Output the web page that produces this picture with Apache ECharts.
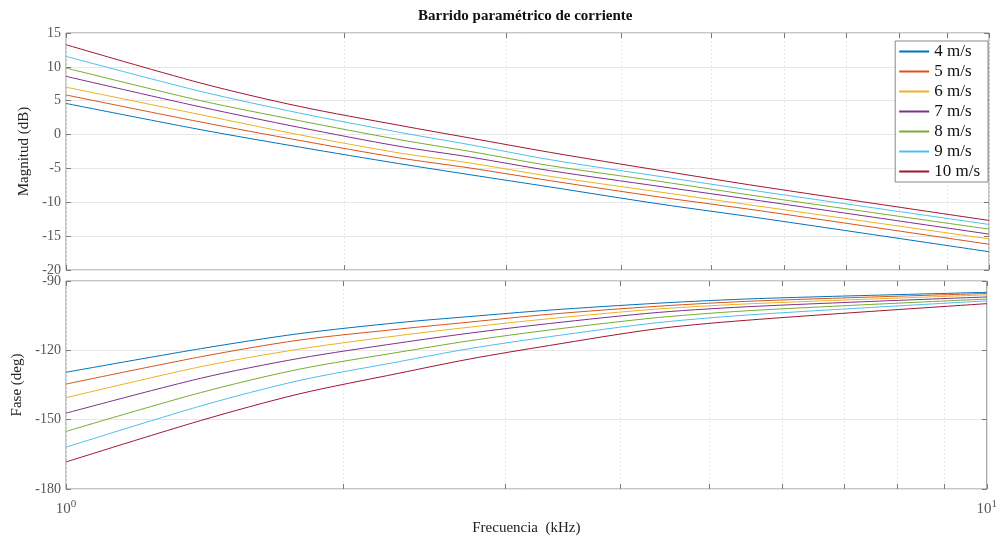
<!DOCTYPE html>
<html>
<head>
<meta charset="utf-8">
<script src="https://cdn.jsdelivr.net/npm/echarts@6/dist/echarts.min.js"></script>
<style>html,body{margin:0;padding:0;background:#fff}#main{width:1000px;height:539px}</style>
</head>
<body>
<div id="main"></div>
<script>
// frecuencias (kHz) donde se leyeron las curvas
var freq = [1, 1.4, 1.79, 2.3, 2.74, 3.35, 4.4, 5.65, 10];
var speeds = ['4 m/s', '5 m/s', '6 m/s', '7 m/s', '8 m/s', '9 m/s', '10 m/s'];
var colors = ['#0072BD', '#D95319', '#EDB120', '#7E2F8E', '#77AC30', '#4DBEEE', '#A2142F'];

// magnitud (dB)
var mag4  = [4.6, 0.72, -1.84, -4.31, -5.93, -7.75, -10.26, -12.33, -17.3];
var mag5  = [5.85, 1.85, -0.86, -3.46, -4.94, -6.82, -9.23, -11.25, -16.2];
var mag6  = [7.0, 2.93, -0.03, -2.73, -4.2, -6.18, -8.49, -10.6, -15.4];
var mag7  = [8.6, 4.07, 1.06, -1.75, -3.32, -5.34, -7.66, -9.77, -14.7];
var mag8  = [9.83, 5.0, 2.05, -0.76, -2.49, -4.6, -6.92, -9.14, -13.96];
var mag9  = [11.55, 6.37, 3.18, 0.32, -1.5, -3.72, -6.18, -8.4, -13.27];
var mag10 = [13.27, 7.6, 4.16, 1.35, -0.51, -2.64, -5.3, -7.66, -12.68];

// fase (deg)
var fase4  = [-129.5, -119.3, -112.8, -108.0, -105.4, -102.6, -99.6, -97.6, -94.9];
var fase5  = [-134.6, -122.8, -115.6, -110.8, -107.8, -104.4, -100.9, -98.6, -95.4];
var fase6  = [-140.5, -127.1, -119.5, -113.6, -110.0, -106.3, -102.1, -99.7, -96.0];
var fase7  = [-147.2, -132.1, -123.5, -116.8, -112.6, -108.4, -103.6, -100.9, -96.9];
var fase8  = [-155.1, -138.3, -128.2, -120.8, -115.9, -111.2, -105.8, -102.6, -97.8];
var fase9  = [-161.9, -144.1, -133.1, -124.9, -119.3, -114.1, -108.0, -104.4, -98.6];
var fase10 = [-168.3, -150.4, -138.9, -129.9, -123.8, -117.9, -110.6, -106.6, -99.8];

var magnitud = [mag4, mag5, mag6, mag7, mag8, mag9, mag10];
var fase = [fase4, fase5, fase6, fase7, fase8, fase9, fase10];

var xTicks = [1, 2, 3, 4, 5, 6, 7, 8, 9, 10];
var xLabels = [1, 10];

var serif = 'Liberation Serif';
var gridColor = '#e8e8e8';
var tickColor = '#7a7a7a';

function pares(vals) {
  return freq.map(function (f, i) { return [f, vals[i]]; });
}

function ejeX(grid, pos, labels) {
  return {
    type: 'log', logBase: 10, gridIndex: grid, position: pos, min: 1, max: 10,
    axisLine: {show: false, onZero: false},
    axisTick: {show: true, inside: true, length: 5, customValues: xTicks, lineStyle: {color: tickColor}},
    splitLine: {show: pos === 'bottom', lineStyle: {color: gridColor, type: [2, 2]}},
    axisLabel: {
      show: labels, customValues: xLabels, margin: 10,
      formatter: function (v) { return '{b|10}{s|' + Math.round(Math.log10(v)) + '}'; },
      rich: {
        b: {fontFamily: serif, fontSize: 15, color: '#555'},
        s: {fontFamily: serif, fontSize: 11, color: '#555', padding: [0, 0, 9, 0]}
      }
    },
    name: labels ? 'Frecuencia  (kHz)' : '',
    nameLocation: 'middle', nameGap: 32,
    nameTextStyle: {fontFamily: serif, fontSize: 15, color: '#222'}
  };
}

function ejeY(grid, pos, min, max, step, name, gap) {
  var left = pos === 'left';
  return {
    type: 'value', gridIndex: grid, position: pos, min: min, max: max, interval: step,
    axisLine: {show: false, onZero: false},
    axisTick: {show: true, inside: true, length: 5, lineStyle: {color: tickColor}},
    splitLine: {show: left, lineStyle: {color: gridColor}},
    axisLabel: {show: left, fontFamily: serif, fontSize: 14, color: '#555', margin: 5},
    name: left ? name : '',
    nameLocation: 'middle', nameGap: gap,
    nameTextStyle: {fontFamily: serif, fontSize: 15, color: '#222'}
  };
}

var series = [];
speeds.forEach(function (s, i) {
  series.push({
    name: s, type: 'line', xAxisIndex: 0, yAxisIndex: 0, symbol: 'none', smooth: 0.3,
    color: colors[i], lineStyle: {width: 1}, data: pares(magnitud[i]), z: 3
  });
  series.push({
    name: s, type: 'line', xAxisIndex: 2, yAxisIndex: 2, symbol: 'none', smooth: 0.3,
    color: colors[i], lineStyle: {width: 1}, data: pares(fase[i]), z: 3
  });
});

var chart = echarts.init(document.getElementById('main'));
chart.setOption({
  animation: false,
  title: {
    text: 'Barrido paramétrico de corriente', left: 413, top: 4,
    textStyle: {fontFamily: serif, fontSize: 15, fontWeight: 'bold', color: '#111'}
  },
  legend: {
    data: speeds, orient: 'vertical', right: 12, top: 41,
    itemWidth: 30, itemHeight: 14, itemGap: 3,
    itemStyle: {opacity: 0},
    backgroundColor: '#fff', borderColor: '#888', borderWidth: 1, borderRadius: 0,
    padding: [2, 8, 2, 3],
    textStyle: {fontFamily: serif, fontSize: 17, color: '#111'}
  },
  grid: [
    {left: 66, right: 11, top: 33, height: 237, show: true, borderColor: '#8c8c8c', borderWidth: 1, backgroundColor: 'transparent'},
    {left: 66, right: 11, top: 281, height: 208, show: true, borderColor: '#8c8c8c', borderWidth: 1, backgroundColor: 'transparent'}
  ],
  xAxis: [
    ejeX(0, 'bottom', false), ejeX(0, 'top', false),
    ejeX(1, 'bottom', true), ejeX(1, 'top', false)
  ],
  yAxis: [
    ejeY(0, 'left', -20, 15, 5, 'Magnitud (dB)', 28), ejeY(0, 'right', -20, 15, 5, '', 0),
    ejeY(1, 'left', -180, -90, 30, 'Fase (deg)', 38), ejeY(1, 'right', -180, -90, 30, '', 0)
  ],
  series: series
});
</script>
</body>
</html>
